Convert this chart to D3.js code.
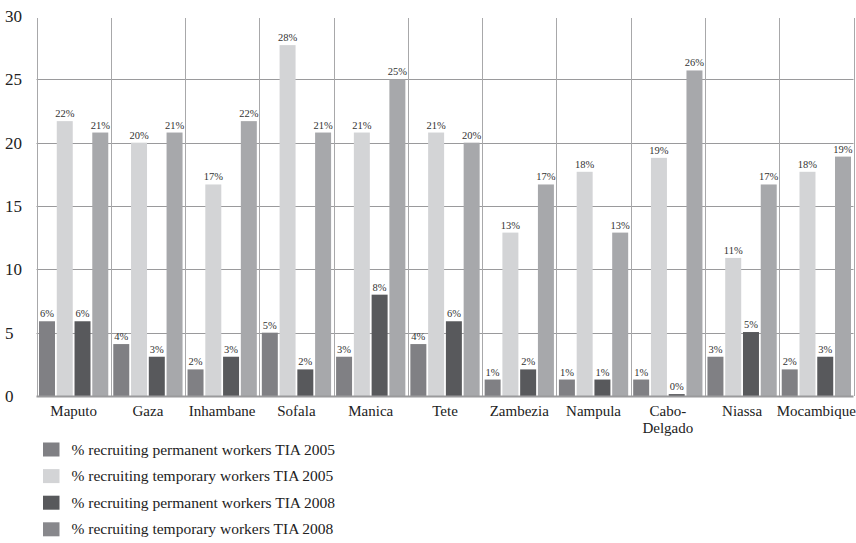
<!DOCTYPE html>
<html>
<head>
<meta charset="utf-8">
<script src="https://cdn.jsdelivr.net/npm/d3@7/dist/d3.min.js"></script>
<style>
  html, body { margin: 0; padding: 0; background: #fff; }
</style>
</head>
<body>
<svg id="chart" width="856" height="543" font-family="'Liberation Serif', Tinos, 'Times New Roman', 'DejaVu Serif', serif"></svg>
<script>
// Provinces of Mozambique (plus the national total)
const provinces = ["Maputo", "Gaza", "Inhambane", "Sofala", "Manica", "Tete",
  "Zambezia", "Nampula", "Cabo-Delgado", "Niassa", "Mocambique"];

// Share of farms recruiting workers, by survey round
const permanent2005 = [5.9, 4.1, 2.1, 5.0, 3.1, 4.1, 1.3, 1.3, 1.3, 3.1, 2.1];
const temporary2005 = [21.7, 20.0, 16.7, 27.7, 20.8, 20.8, 12.9, 17.7, 18.8, 10.9, 17.7];
const permanent2008 = [5.9, 3.1, 3.1, 2.1, 8.0, 5.9, 2.1, 1.3, 0.15, 5.05, 3.1];
const temporary2008 = [20.8, 20.8, 21.7, 20.8, 25.0, 20.0, 16.7, 12.9, 25.7, 16.7, 18.9];

const seriesNames = [
  "% recruiting permanent workers TIA 2005",
  "% recruiting temporary workers TIA 2005",
  "% recruiting permanent workers TIA 2008",
  "% recruiting temporary workers TIA 2008"
];
const seriesColors = ["#808084", "#d3d4d6", "#58595c", "#a7a8ab"];
const legendColors = ["#808084", "#d3d4d6", "#58595c", "#88888c"];
const yTicks = [0, 5, 10, 15, 20, 25, 30];

const seriesValues = [permanent2005, temporary2005, permanent2008, temporary2008];

const svg = d3.select("#chart");
const plotLeft = 36.5, plotRight = 853.5, plotTop = 16, plotBottom = 396;

const x0 = d3.scaleBand().domain(provinces).range([plotLeft, plotRight]).padding(0);
const x1 = d3.scaleBand().domain(d3.range(4))
  .range([2.5, x0.bandwidth() - 2.5]).paddingInner(0.1).paddingOuter(0);
const y = d3.scaleLinear().domain([0, 30]).range([plotBottom, plotTop]);

// horizontal gridlines
svg.append("g").selectAll("line")
  .data(yTicks.filter(t => t > 0 && t < 30))
  .join("line")
  .attr("x1", plotLeft).attr("x2", plotRight)
  .attr("y1", d => Math.round(y(d)) + 0.5).attr("y2", d => Math.round(y(d)) + 0.5)
  .attr("stroke", "#9a9a9c").attr("stroke-width", 1);

// vertical separators between provinces
const seps = provinces.map(p => x0(p)).concat([plotRight]);
svg.append("g").selectAll("line")
  .data(seps)
  .join("line")
  .attr("x1", d => Math.round(d) + 0.5).attr("x2", d => Math.round(d) + 0.5)
  .attr("y1", y(30) + 2).attr("y2", plotBottom)
  .attr("stroke", "#a8a8aa").attr("stroke-width", 1);

// bars
const groups = svg.append("g").selectAll("g")
  .data(provinces)
  .join("g")
  .attr("transform", d => `translate(${x0(d)},0)`);

groups.selectAll("rect")
  .data((p, i) => seriesValues.map((vals, s) => ({ s, v: vals[i] })))
  .join("rect")
  .attr("x", d => x1(d.s))
  .attr("width", x1.bandwidth())
  .attr("y", d => y(d.v))
  .attr("height", d => y(0) - y(d.v))
  .attr("fill", d => seriesColors[d.s]);

groups.selectAll("text")
  .data((p, i) => seriesValues.map((vals, s) => ({ s, v: vals[i] })))
  .join("text")
  .attr("x", d => x1(d.s) + x1.bandwidth() / 2)
  .attr("y", d => y(d.v) - 4)
  .attr("text-anchor", "middle")
  .attr("font-size", "10.5px")
  .attr("fill", "#333")
  .text(d => Math.round(d.v) + "%");

// baseline
svg.append("line")
  .attr("x1", plotLeft).attr("x2", plotRight)
  .attr("y1", plotBottom + 0.5).attr("y2", plotBottom + 0.5)
  .attr("stroke", "#9a9a9c").attr("stroke-width", 2);

// y tick labels
svg.append("g").selectAll("text")
  .data(yTicks)
  .join("text")
  .attr("x", 5)
  .attr("y", d => y(d))
  .attr("dy", "0.35em")
  .attr("font-size", "17px")
  .attr("fill", "#222")
  .text(d => d);

// province labels (hyphenated names break onto two lines)
const xl = svg.append("g").selectAll("text")
  .data(provinces)
  .join("text")
  .attr("x", d => x0(d) + x0.bandwidth() / 2)
  .attr("y", plotBottom + 20)
  .attr("text-anchor", "middle")
  .attr("font-size", "15px")
  .attr("fill", "#222");
xl.each(function (d) {
  const parts = d.includes("-") ? [d.split("-")[0] + "-", d.split("-")[1]] : [d];
  d3.select(this).selectAll("tspan")
    .data(parts)
    .join("tspan")
    .attr("x", x0(d) + x0.bandwidth() / 2)
    .attr("dy", (t, i) => i === 0 ? 0 : 17)
    .text(t => t);
});

// legend
const lg = svg.append("g").selectAll("g")
  .data(seriesNames)
  .join("g")
  .attr("transform", (d, i) => `translate(43,${449.5 + i * 26.6})`);
lg.append("rect")
  .attr("x", 0).attr("y", -7).attr("width", 16.5).attr("height", 14)
  .attr("fill", (d, i) => legendColors[i]);
lg.append("text")
  .attr("x", 28.5).attr("y", 0).attr("dy", "0.33em")
  .attr("font-size", "15.5px")
  .attr("fill", "#222")
  .text(d => d);
</script>
</body>
</html>
